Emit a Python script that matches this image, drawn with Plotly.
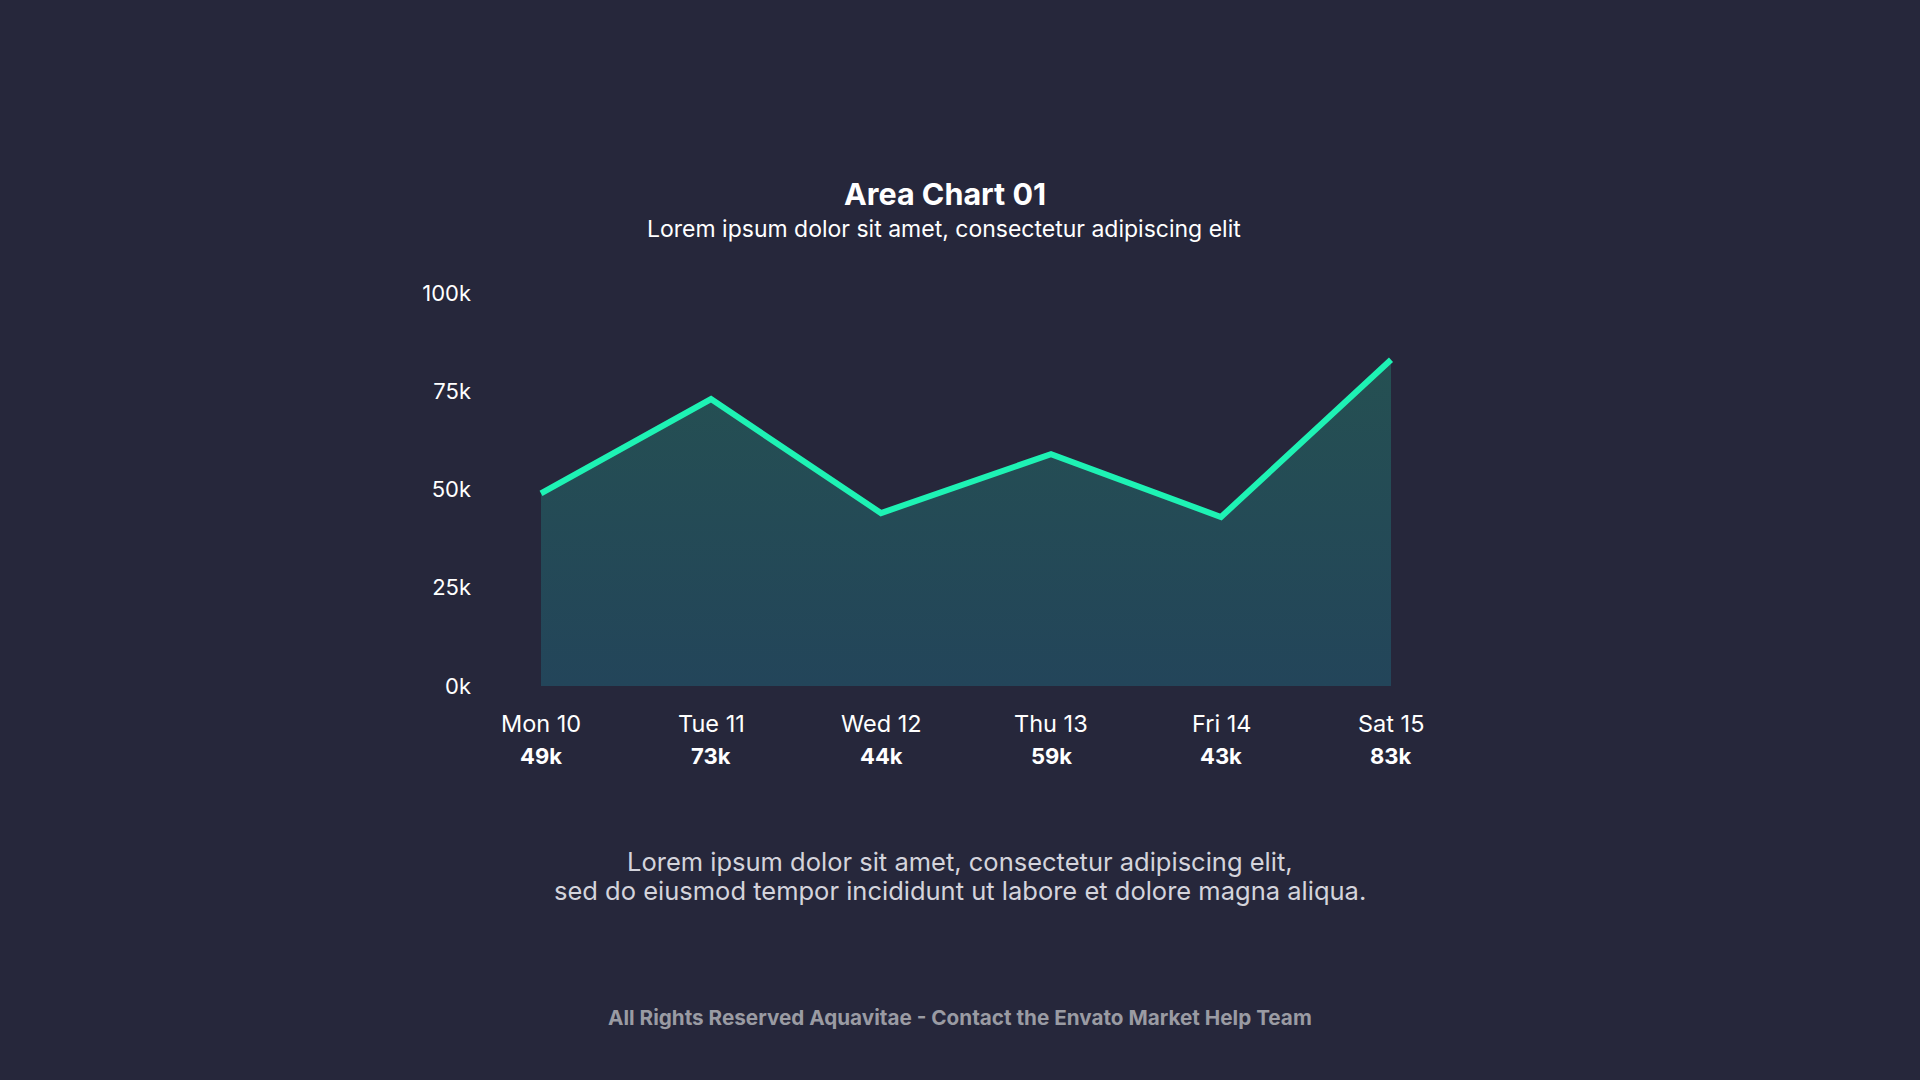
import plotly.graph_objects as go

days = ["Mon 10", "Tue 11", "Wed 12", "Thu 13", "Fri 14", "Sat 15"]
values = [49000, 73000, 44000, 59000, 43000, 83000]
value_labels = ["49k", "73k", "44k", "59k", "43k", "83k"]
y_tickvals = [0, 25000, 50000, 75000, 100000]
y_ticktext = ["0k", "25k", "50k", "75k", "100k"]

title = "Area Chart 01"
subtitle = "Lorem ipsum dolor sit amet, consectetur adipiscing elit"
body_lines = ["Lorem ipsum dolor sit amet, consectetur adipiscing elit,",
              "sed do eiusmod tempor incididunt ut labore et dolore magna aliqua."]
footer = "All Rights Reserved Aquavitae - Contact the Envato Market Help Team"

BG = "#26273b"
LINE = "#1ef2b4"
FONT = "Inter, Lato, sans-serif"

W, H = 1920, 1080
L, R = 480, 1440
T, B = 293, 686

def px_to_paper_y(py):
    return (B - py) / (B - T)

def px_to_paper_x(px):
    return (px - L) / (R - L)

xs = list(range(len(days)))
x0 = -(541 - L) / 170
x1 = (len(days) - 1) + (R - 1391) / 170

fig = go.Figure()
fig.add_trace(go.Scatter(
    x=xs, y=values, mode="lines",
    line=dict(color=LINE, width=6, shape="linear"),
    fill="tozeroy",
    fillgradient=dict(type="vertical", start=0, stop=max(values),
                      colorscale=[[0, "#23455a"], [1, "#255052"]]),
    hoverinfo="skip", showlegend=False,
))

annotations = []
for i, (d, v) in enumerate(zip(days, value_labels)):
    annotations.append(dict(x=i, y=px_to_paper_y(723), xref="x", yref="paper",
                            text=d, showarrow=False, xanchor="center", yanchor="middle",
                            font=dict(family=FONT, size=23.5, color="#ffffff")))
    annotations.append(dict(x=i, y=px_to_paper_y(756), xref="x", yref="paper",
                            text="<b>" + v + "</b>", showarrow=False, xanchor="center", yanchor="middle",
                            font=dict(family=FONT, size=22, color="#ffffff")))

annotations += [
    dict(x=px_to_paper_x(945), y=px_to_paper_y(194), xref="paper", yref="paper",
         text="<b>" + title + "</b>", showarrow=False, xanchor="center", yanchor="middle",
         font=dict(family=FONT, size=30.5, color="#ffffff")),
    dict(x=px_to_paper_x(944), y=px_to_paper_y(229), xref="paper", yref="paper",
         text=subtitle, showarrow=False, xanchor="center", yanchor="middle",
         font=dict(family=FONT, size=23, color="#ffffff")),
    dict(x=px_to_paper_x(960), y=px_to_paper_y(1017), xref="paper", yref="paper",
         text="<b>" + footer + "</b>", showarrow=False, xanchor="center", yanchor="middle",
         font=dict(family=FONT, size=20.7, color="#9a9ba3")),
]
for line_text, py in zip(body_lines, [861, 890]):
    annotations.append(dict(x=px_to_paper_x(960), y=px_to_paper_y(py), xref="paper", yref="paper",
                            text=line_text, showarrow=False, xanchor="center", yanchor="middle",
                            font=dict(family=FONT, size=25.5, color="#d4d4dc")))

fig.update_layout(
    width=W, height=H,
    margin=dict(l=L, r=W - R, t=T, b=H - B, pad=0),
    paper_bgcolor=BG, plot_bgcolor=BG,
    xaxis=dict(range=[x0, x1], showgrid=False, zeroline=False, showline=False,
               showticklabels=False, ticks="", fixedrange=True),
    yaxis=dict(range=[0, 100000], tickvals=y_tickvals, ticktext=y_ticktext,
               showgrid=False, zeroline=False, showline=False, ticks="",
               ticklabelstandoff=8,
               tickfont=dict(family=FONT, size=22, color="#ffffff"), fixedrange=True),
    annotations=annotations,
)

fig.write_html("out.html", config={"displayModeBar": False})
